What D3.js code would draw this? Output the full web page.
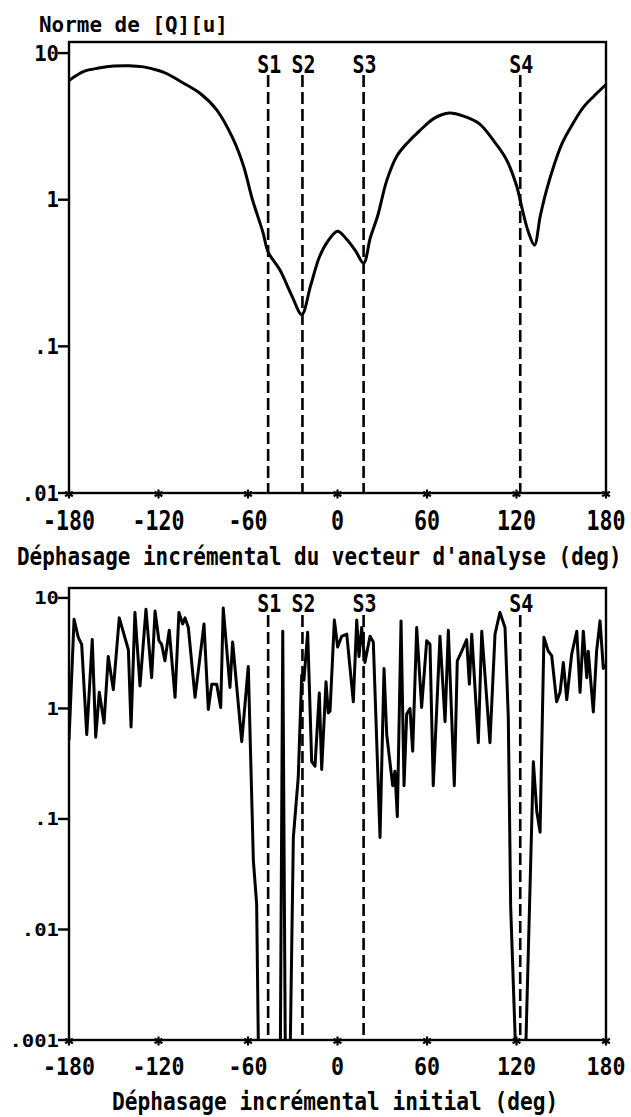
<!DOCTYPE html>
<html>
<head>
<meta charset="utf-8">
<script src="https://cdn.jsdelivr.net/npm/d3@7"></script>
<style>
  html, body { margin: 0; padding: 0; background: #fff; }
  svg { display: block; }
</style>
</head>
<body>
<svg id="chart" width="631" height="1117"></svg>
<script>
// ---- data ----------------------------------------------------------------
const xTicks = [-180, -120, -60, 0, 60, 120, 180];
const xTickLabels = ["-180", "-120", "-60", "0", "60", "120", "180"];

const sourceNames = ["S1", "S2", "S3", "S4"];
const sourceAngles = [-46.5, -23.5, 17.5, 122.5];

// Upper panel: norm of [Q][u] versus incremental phase of the analysis vector
const normAngles = [-180, -170, -160, -150, -140, -130, -120, -114, -104, -92,
  -81, -70, -63, -57, -50, -46.5, -38.5, -30.5, -24, -18, -12, -6, 0, 6, 12,
  17.5, 22, 27, 33, 40, 47, 55, 65, 75, 85, 95, 105, 113, 120, 124, 128, 132,
  136, 140, 145, 150, 155, 165, 172, 180];
const normValues = [6.5, 7.5, 7.9, 8.15, 8.2, 8.05, 7.6, 7.2, 6.3, 5.3,
  4.1, 2.6, 1.7, 1.0, 0.6, 0.44, 0.33, 0.22, 0.165, 0.26, 0.41, 0.53, 0.61, 0.54, 0.45,
  0.37, 0.55, 0.78, 1.35, 2.0, 2.45, 2.95, 3.6, 3.9, 3.7, 3.3, 2.5, 1.9, 1.25, 0.85, 0.6, 0.49,
  0.78, 1.15, 1.7, 2.35, 2.95, 4.3, 5.1, 6.1];
const topYTicks = [10, 1, 0.1, 0.01];
const topYLabels = ["10", "1", ".1", ".01"];

// Lower panel: same quantity versus initial incremental phase
const initAngles = [-180, -176.6, -173.8, -171.5, -168.1, -164.4, -162.1, -159.7,
  -156.5, -153.7, -150.3, -146.3, -140.2, -138.4, -135.8, -132.4, -128.4, -124.6,
  -122.3, -119.7, -117.9, -115.7, -112.8, -108.9, -106.3, -103.8, -102.2, -100.0,
  -95.5, -89.5, -86.6, -84.3, -81.0, -78.3, -76.6, -72.1, -70.3, -64.2, -59.8,
  -56.4, -54.2, -52.2, -47.9, -43.4, -38.7, -36.7, -34.6, -32.7, -29.6, -26.3,
  -24.0, -22.5, -20.0, -17.3, -15.1, -12.2, -10.6, -7.7, -6.2, -5.0, -2.1, 0.1,
  2.8, 6.2, 10.6, 12.9, 14.4, 16.2, 18.4, 21.8, 24.0, 28.5, 31.2, 33.0, 37.0,
  38.5, 40.1, 42.6, 44.6, 46.4, 48.6, 50.4, 53.1, 56.4, 59.8, 62.0, 64.2, 68.7,
  72.1, 74.3, 78.3, 80.3, 83.3, 86.6, 88.4, 90.0, 94.4, 96.7, 102.2, 105.6,
  108.9, 112.3, 114.5, 116.1, 121.7, 124.4, 131.3, 133.6, 135.8, 138.4, 141.3,
  143.6, 146.9, 149.2, 151.4, 153.7, 157.0, 160.4, 162.6, 164.8, 167.1, 168.1,
  171.5, 173.7, 176.0, 178.2, 180];
const initValues = [0.52, 6.4, 4.4, 3.8, 0.58, 4.2, 0.55, 1.4,
  0.74, 2.95, 1.48, 6.6, 3.4, 0.68, 7.4, 1.6, 7.9, 1.9,
  7.6, 4.1, 3.8, 2.7, 5.1, 1.26, 7.4, 5.8, 6.6, 5.4,
  1.26, 5.8, 0.98, 1.66, 1.66, 1.02, 8.1, 1.55, 4.0, 0.5, 2.4,
  0.042, 0.017, 0.0001, 0.0001, 0.0001, 0.0001, 5.0, 0.0001, 0.0001, 0.068, 0.24,
  2.0, 1.8, 4.9, 0.33, 0.30, 1.38, 0.28, 1.74, 0.91, 0.95, 6.3, 3.6,
  4.5, 4.7, 1.15, 6.3, 2.95, 5.4, 2.6, 4.5, 4.0, 0.068, 2.3, 0.58, 0.2,
  0.27, 0.105, 6.2, 0.2, 0.89, 1.0, 0.41, 5.4, 1.02, 4.1, 3.8, 0.2, 4.5,
  0.76, 5.1, 0.2, 2.7, 3.3, 4.2, 1.66, 4.7, 0.49, 5.0, 0.49, 4.7,
  7.4, 5.4, 0.83, 0.016, 0.0001, 0.0001, 0.33, 0.117, 0.076, 4.4, 3.3,
  3.0, 1.15, 1.4, 2.6, 1.2, 3.1, 5.0, 1.4, 5.0, 1.9, 3.3,
  0.93, 3.3, 6.2, 2.3, 2.5];
const botYTicks = [10, 1, 0.1, 0.01, 0.001];
const botYLabels = ["10", "1", ".1", ".01", ".001"];

const topTitle = "Norme de [Q][u]";
const topXTitle = "Déphasage incrémental du vecteur d'analyse (deg)";
const botXTitle = "Déphasage incrémental initial (deg)";

// ---- drawing -------------------------------------------------------------
const svg = d3.select("#chart");
const FONT = "'DejaVu Sans Mono', 'Liberation Mono', monospace";
const CAP = 0.729;   // cap height of the font, in em
const ADV = 0.602;   // advance width of the font, in em

// Plotter-style lettering: the advance sets the font size, the glyph
// height is reached by stretching vertically about the baseline.
function letter(g, txt, x, baseline, capH, advance, anchor) {
  const size = advance / ADV;
  const k = capH / (size * CAP);
  const w = advance * txt.length;
  let x0 = x;
  if (anchor === "middle") x0 = x - w / 2;
  if (anchor === "end") x0 = x - w;
  g.append("text")
    .attr("transform", `translate(${x0},${baseline}) scale(1,${k})`)
    .attr("x", 0).attr("y", 0)
    .attr("font-family", FONT)
    .attr("font-weight", "bold")
    .attr("font-size", size)
    .attr("fill", "#000")
    .text(txt);
}

function panel(cfg) {
  const g = svg.append("g");
  const x = d3.scaleLinear().domain([-180, 180]).range([cfg.left, cfg.right]);
  const y = d3.scaleLog().domain(cfg.yDomain).range([cfg.bottom, cfg.top]);

  const clipId = "clip-" + cfg.id;
  svg.append("clipPath").attr("id", clipId)
    .append("rect")
    .attr("x", cfg.left).attr("y", cfg.top)
    .attr("width", cfg.right - cfg.left).attr("height", cfg.bottom - cfg.top);

  // source markers
  sourceAngles.forEach((a, i) => {
    g.append("line")
      .attr("x1", x(a)).attr("x2", x(a))
      .attr("y1", cfg.dashTop).attr("y2", cfg.bottom)
      .attr("stroke", "#000").attr("stroke-width", 2.6)
      .attr("stroke-dasharray", "12,5");
    letter(g, sourceNames[i], x(a) + 1, cfg.sBase, cfg.sCap, 12, "middle");
  });

  // curve
  const pts = cfg.angles.map((a, i) => [a, cfg.values[i]]);
  const line = d3.line()
    .x(d => x(d[0]))
    .y(d => y(d[1]))
    .curve(cfg.curve);
  g.append("path")
    .datum(pts)
    .attr("clip-path", `url(#${clipId})`)
    .attr("d", line)
    .attr("fill", "none")
    .attr("stroke", "#000")
    .attr("stroke-width", 3)
    .attr("stroke-linejoin", "round");

  // frame
  g.append("rect")
    .attr("x", cfg.left).attr("y", cfg.top)
    .attr("width", cfg.right - cfg.left).attr("height", cfg.bottom - cfg.top)
    .attr("fill", "none").attr("stroke", "#000").attr("stroke-width", 2.4);

  // y ticks and labels
  cfg.yTicks.forEach((t, i) => {
    g.append("line")
      .attr("x1", cfg.left - 11).attr("x2", cfg.left)
      .attr("y1", y(t)).attr("y2", y(t))
      .attr("stroke", "#000").attr("stroke-width", 2.4);
    letter(g, cfg.yLabels[i], cfg.left - 10, y(t) + cfg.yCap / 2, cfg.yCap, 12.4, "end");
  });

  // x ticks drawn as asterisks on the bottom edge
  xTicks.forEach((t, i) => {
    const cx = x(t), cy = cfg.bottom + 1;
    [90, 30, 150].forEach(deg => {
      const r = 4.5, rad = deg * Math.PI / 180;
      g.append("line")
        .attr("x1", cx - r * Math.cos(rad)).attr("y1", cy - r * Math.sin(rad))
        .attr("x2", cx + r * Math.cos(rad)).attr("y2", cy + r * Math.sin(rad))
        .attr("stroke", "#000").attr("stroke-width", 2.2);
    });
    letter(g, xTickLabels[i], cx, cfg.xLabBase, cfg.xCap, 13, "middle");
  });

  // axis title
  letter(g, cfg.xTitle, cfg.xTitleX, cfg.xTitleBase, 18, cfg.xTitleAdv, "start");
}

panel({
  id: "top", left: 69, right: 606, top: 42, bottom: 493,
  yDomain: [0.01, 11.9],
  angles: normAngles, values: normValues,
  curve: d3.curveCatmullRom.alpha(0.5),
  yTicks: topYTicks, yLabels: topYLabels, yCap: 15.5,
  xCap: 20, xLabBase: 530,
  dashTop: 75, sBase: 73, sCap: 18,
  xTitle: topXTitle, xTitleX: 17, xTitleBase: 565, xTitleAdv: 12.6
});

panel({
  id: "bottom", left: 69, right: 606, top: 588, bottom: 1040,
  yDomain: [0.001, 12.3],
  angles: initAngles, values: initValues,
  curve: d3.curveLinear,
  yTicks: botYTicks, yLabels: botYLabels, yCap: 13,
  xCap: 18, xLabBase: 1075,
  dashTop: 615, sBase: 612, sCap: 18,
  xTitle: botXTitle, xTitleX: 112, xTitleBase: 1110, xTitleAdv: 12.75
});

// vertical-axis title of the upper panel
letter(svg.append("g"), topTitle, 39, 32, 16, 12.6, "start");
</script>
</body>
</html>
